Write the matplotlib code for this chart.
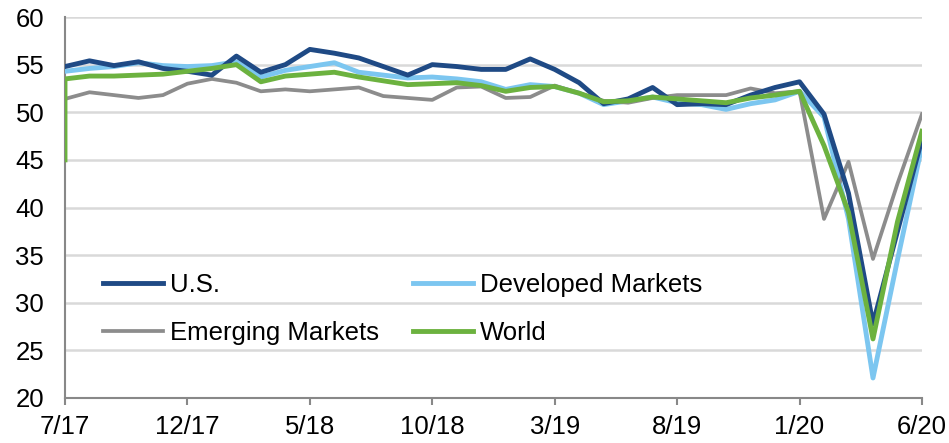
import matplotlib
matplotlib.use("Agg")
import matplotlib.pyplot as plt
import numpy as np

plt.rcParams['font.family'] = ['Liberation Sans', 'DejaVu Sans']

# monthly, 7/17 .. 6/20
tick_labels = ['7/17', '12/17', '5/18', '10/18', '3/19', '8/19', '1/20', '6/20']

us = [54.8, 55.4, 54.9, 55.3, 54.6, 54.3, 53.9, 55.9, 54.2, 55.0, 56.6, 56.2,
      55.7, 54.8, 53.9, 55.0, 54.8, 54.5, 54.5, 55.6, 54.5, 53.1, 50.9, 51.4,
      52.6, 50.8, 50.9, 50.8, 51.8, 52.6, 53.2, 49.8, 41.5, 27.8, 37.5, 47.2]
developed = [54.3, 54.6, 54.8, 55.2, 54.9, 54.8, 54.9, 55.3, 53.7, 54.4, 54.8, 55.2,
             54.2, 53.9, 53.6, 53.7, 53.5, 53.2, 52.4, 52.9, 52.7, 52.0, 50.8, 51.2,
             51.6, 51.0, 50.8, 50.3, 50.9, 51.3, 52.2, 49.5, 38.8, 22.1, 34.5, 46.5]
emerging = [51.4, 52.1, 51.8, 51.5, 51.8, 53.0, 53.5, 53.1, 52.2, 52.4, 52.2, 52.4,
            52.6, 51.7, 51.5, 51.3, 52.6, 52.7, 51.5, 51.6, 52.8, 52.0, 51.2, 51.0,
            51.5, 51.8, 51.8, 51.8, 52.5, 52.0, 52.2, 38.8, 44.8, 34.6, 42.5, 49.8]
world = [53.5, 53.8, 53.8, 53.9, 54.0, 54.3, 54.6, 55.0, 53.2, 53.8, 54.0, 54.2,
         53.7, 53.3, 52.9, 53.0, 53.1, 52.8, 52.2, 52.6, 52.7, 52.0, 51.1, 51.2,
         51.6, 51.4, 51.2, 51.0, 51.5, 51.8, 52.2, 46.5, 39.5, 26.2, 38.5, 48.0]
world_start = 45.0  # the world line rises from here at the first date

months = np.arange(len(us))

fig = plt.figure(figsize=(9.49, 4.43), dpi=100)
ax = fig.add_axes([0.0685, 0.1016, 0.903, 0.86])

ax.plot(months, developed, color='#7cc6f0', lw=3.5, label='Developed Markets', zorder=3)
ax.plot(months, emerging, color='#8c8c8c', lw=2.7, label='Emerging Markets', zorder=4)
ax.plot(months, us, color='#1f4a85', lw=3.5, label='U.S.', zorder=5)
ax.plot(np.r_[0, months], np.r_[world_start, world], color='#6cb23f', lw=3.5,
        label='World', zorder=6)

ax.set_xlim(0, 35)
ax.set_ylim(20, 60)
ax.set_yticks(range(20, 61, 5))
ax.set_xticks(range(0, 36, 5))
ax.set_xticklabels(tick_labels)

ax.grid(True, axis='y', color='#d9d9d9', lw=1.8)
ax.set_axisbelow(True)
for s in ['top', 'right']:
    ax.spines[s].set_visible(False)
for s in ['left', 'bottom']:
    ax.spines[s].set_color('#888888')
    ax.spines[s].set_linewidth(1.5)
ax.tick_params(axis='y', length=0, pad=15, labelsize=18.5)
ax.tick_params(axis='x', length=5, width=1.5, color='#888888', pad=7, labelsize=18.5)

handles, labels = ax.get_legend_handles_labels()
order = ['U.S.', 'Emerging Markets', 'Developed Markets', 'World']
hmap = dict(zip(labels, handles))
ax.legend([hmap[k] for k in order], order, ncol=2, frameon=False,
          loc='upper left', bbox_to_anchor=(0.044, 0.329), borderpad=0,
          borderaxespad=0, handlelength=2.35, handletextpad=0.28,
          columnspacing=1.3, labelspacing=0.95, fontsize=18.5)

fig.savefig('out.png', dpi=100)
